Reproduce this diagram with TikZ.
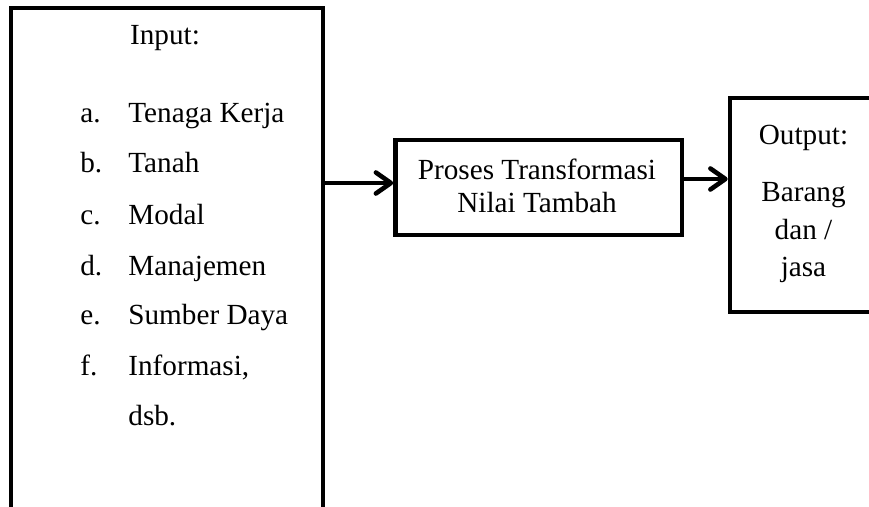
\documentclass[tikz,border=0pt]{standalone}
\usepackage{fontspec}
\setmainfont{Liberation Serif}
\usetikzlibrary{arrows.meta}
\begin{document}
\begin{tikzpicture}[x=0.5pt,y=-0.5pt,
  boxstyle/.style={draw=black, line width=2.3pt, rectangle, inner sep=0pt, line join=miter},
  txt/.style={inner sep=0pt, anchor=base, font=\fontsize{14.6}{17}\selectfont},
  txtw/.style={inner sep=0pt, anchor=base west, font=\fontsize{14.6}{17}\selectfont},
  arr/.style={line width=2.3pt, -{Straight Barb[length=7.5pt, width=10.5pt, line cap=round, line join=round]}}]
\useasboundingbox (0,0) rectangle (869,507);
\clip (0,0) rectangle (869,507);
\fill[white] (0,0) rectangle (869,507);
% boxes
\node[boxstyle, minimum width=156pt, minimum height=261pt] (lbox) at (167,269) {};
\node[boxstyle, minimum width=143.25pt, minimum height=47.5pt] (mbox) at (538.75,187.5) {};
\node[boxstyle, minimum width=80pt, minimum height=107pt] (rbox) at (810,205) {};
% arrows
\coordinate (a1) at (0,183);
\coordinate (a2) at (0,179);
\draw[arr] (lbox.east |- a1) -- (mbox.west |- a1);
\draw[arr] (mbox.east |- a2) -- (rbox.west |- a2);
% left texts
\node[txt] (inp) at (165,45) {Input:};
\node[txtw] (la) at (80,123) {a.};
\node[txtw] (ta) at (128,123) {Tenaga Kerja};
\node[txtw] (lb) at (80,173) {b.};
\node[txtw] (tb) at (128,173) {Tanah};
\node[txtw] (lc) at (80,225) {c.};
\node[txtw] (tc) at (128,225) {Modal};
\node[txtw] (ld) at (80,276) {d.};
\node[txtw] (td) at (128,276) {Manajemen};
\node[txtw] (le) at (80,325) {e.};
\node[txtw] (te) at (128,325) {Sumber Daya};
\node[txtw] (lf) at (80,376) {f.};
\node[txtw] (tf) at (128,376) {Informasi,};
\node[txtw] (tg) at (128,426) {dsb.};
% middle texts
\node[txt] (m1) at (537,180) {Proses Transformasi};
\node[txt] (m2) at (537,213) {Nilai Tambah};
% right texts
\node[txt] (r0) at (803.5,145) {Output:};
\node[txt] (r1) at (803.5,202) {Barang};
\node[txt] (r2) at (803.5,240) {dan /};
\node[txt] (r3) at (803.5,277) {jasa};
\end{tikzpicture}
\end{document}
